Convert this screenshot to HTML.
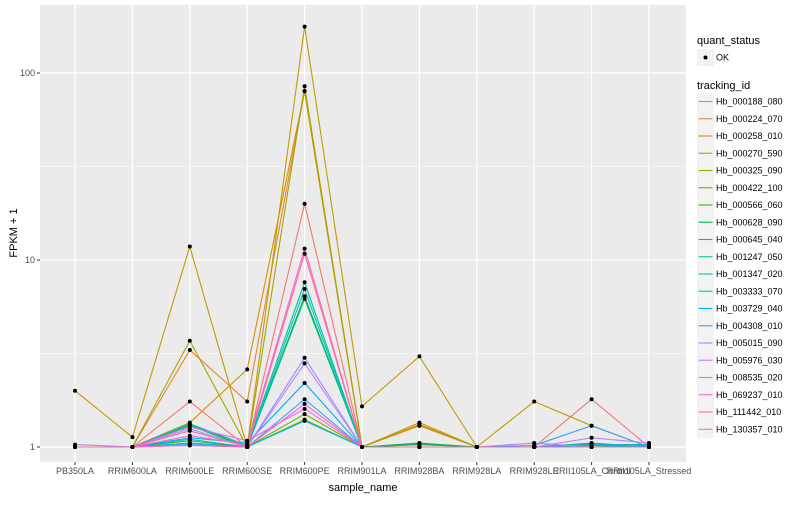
<!DOCTYPE html>
<html><head><meta charset="utf-8"><style>
body{margin:0;background:#fff;font-family:"Liberation Sans",sans-serif}
svg text{font-family:"Liberation Sans",sans-serif}
</style></head><body>
<svg id="chart" width="800" height="500" xmlns="http://www.w3.org/2000/svg">
<rect x="40" y="5" width="646" height="457" fill="#ebebeb"/>
<g id="grid"></g><g id="lines"></g><g id="points"></g><g id="axes"></g><g id="legend"></g>
<text x="363" y="491" font-size="11" text-anchor="middle" fill="#000">sample_name</text>
<text transform="translate(17,233) rotate(-90)" font-size="11" text-anchor="middle" fill="#000">FPKM + 1</text>
</svg>
<script>
const samples=["PB350LA","RRIM600LA","RRIM600LE","RRIM600SE","RRIM600PE","RRIM901LA","RRIM928BA","RRIM928LA","RRIM928LE","RRII105LA_Control","RRII105LA_Stressed"];
const genes=["Hb_000188_080","Hb_000224_070","Hb_000258_010","Hb_000270_590","Hb_000325_090","Hb_000422_100","Hb_000566_060","Hb_000628_090","Hb_000645_040","Hb_001247_050","Hb_001347_020","Hb_003333_070","Hb_003729_040","Hb_004308_010","Hb_005015_090","Hb_005976_030","Hb_008535_020","Hb_069237_010","Hb_111442_010","Hb_130357_010"];
const colors=["#F8766D","#EA8331","#D89000","#C09B00","#A3A500","#7CAE00","#39B600","#00BB4E","#00BF7D","#00C1A3","#00BFC4","#00BAE0","#00B0F6","#35A2FF","#9590FF","#C77CFF","#E76BF3","#FA62DB","#FF62BC","#FF6C91"];
const g188=[1,1,1.75,1,20,1,1.3,1,1,1.8,1];
const g224=[1,1,3.3,1.75,80,1,1.3,1,1,1,1];
const g258=[1,1,1.35,2.6,80,1,1.35,1,1,1,1];
const g270=[2.0,1.13,11.8,1.0,177,1.65,3.05,1.0,1.75,1.3,1.0];
const g325=[1,1,3.7,1.0,85,1,1.32,1,1,1,1];
const g422=[1,1,1.05,1,1.5,1,1.03,1,1,1,1];
const g566=[1,1,1.08,1,1.4,1,1.04,1,1,1,1.02];
const g628=[1,1,1.32,1,6.4,1,1.05,1,1,1.03,1];
const g645=[1,1,1.3,1,6.2,1,1.03,1,1,1.05,1];
const g1247=[1,1,1.33,1.02,7.6,1,1,1,1,1.04,1];
const g1347=[1,1,1.1,1,7.0,1,1,1,1,1.03,1.03];
const g3333=[1,1,1.05,1,1.38,1,1,1,1,1,1];
const g3729=[1,1,1.12,1.05,2.2,1,1,1,1,1.02,1];
const g4308=[1,1,1.03,1,1.8,1,1,1,1.02,1.3,1];
const g5015=[1.03,1,1.25,1,3.0,1,1,1,1.05,1,1];
const g5976=[1,1,1.02,1,2.8,1,1,1,1,1.12,1.05];
const g8535=[1,1,1.28,1.08,1.6,1,1,1,1,1,1];
const g69237=[1,1,1.15,1.03,11.5,1,1,1,1,1,1];
const g111442=[1,1,1.02,1,1.7,1,1,1,1,1,1];
const g130357=[1,1,1.22,1,10.8,1,1,1,1,1,1];
const series=[g188,g224,g258,g270,g325,g422,g566,g628,g645,g1247,g1347,g3333,g3729,g4308,g5015,g5976,g8535,g69237,g111442,g130357];
const yTicks=[1,10,100];
const yMinor=[Math.sqrt(10),Math.sqrt(1000)];
const NS="http://www.w3.org/2000/svg";
function xs(i){return 75+i*57.4;}
function ys(v){return 447-187*Math.log10(v);}
function mk(tag,attrs,parent){const e=document.createElementNS(NS,tag);for(const k in attrs)e.setAttribute(k,attrs[k]);parent.appendChild(e);return e;}
const grid=document.getElementById('grid'),lines=document.getElementById('lines'),pts=document.getElementById('points'),axes=document.getElementById('axes'),leg=document.getElementById('legend');
yMinor.forEach(v=>{const l=mk('line',{x1:40,x2:686,y1:ys(v),y2:ys(v),stroke:'#fff','stroke-width':0.6},grid);

});
yTicks.forEach(v=>{const l=mk('line',{x1:40,x2:686,y1:ys(v),y2:ys(v),stroke:'#fff','stroke-width':1.2},grid);


const t=mk('line',{x1:37,x2:40,y1:ys(v),y2:ys(v),stroke:'#333','stroke-width':1},axes);


const tx=mk('text',{x:35,y:ys(v)+3,'font-size':9,'text-anchor':'end',fill:'#4d4d4d'},axes);tx.textContent=String(v);

});
samples.forEach((s,i)=>{const l=mk('line',{x1:xs(i),x2:xs(i),y1:5,y2:462,stroke:'#fff','stroke-width':1.2},grid);


const t=mk('line',{x1:xs(i),x2:xs(i),y1:462,y2:465,stroke:'#333','stroke-width':1},axes);


const tx=mk('text',{x:xs(i),y:474,'font-size':9,'text-anchor':'middle',fill:'#4d4d4d'},axes);tx.textContent=s;

});
series.forEach((d,g)=>{const p=mk('polyline',{points:d.map((v,i)=>xs(i)+','+ys(v)).join(' '),fill:'none',stroke:colors[g],'stroke-width':1.1},lines);

});
series.forEach((d,g)=>{d.forEach((v,i)=>{const c=mk('circle',{cx:xs(i),cy:ys(v),r:2,fill:'#000'},pts);

});});
// legend
let t=mk('text',{x:697,y:44,'font-size':11,fill:'#000'},leg);t.textContent='quant_status';


let r=mk('rect',{x:697,y:49,width:17,height:17,fill:'#f2f2f2'},leg);


mk('circle',{cx:705.5,cy:57.5,r:2,fill:'#000'},leg);
t=mk('text',{x:716,y:60.5,'font-size':9,fill:'#000'},leg);t.textContent='OK';


t=mk('text',{x:697,y:89,'font-size':11,fill:'#000'},leg);t.textContent='tracking_id';


genes.forEach((g,k)=>{const y=93+k*17.25;
const e=mk('g',{},leg);


mk('rect',{x:697,y:y,width:17,height:17,fill:'#f2f2f2'},e);
mk('line',{x1:698.5,x2:712.5,y1:y+8.5,y2:y+8.5,stroke:colors[k],'stroke-width':1.1},e);
const tx=mk('text',{x:716,y:y+11.5,'font-size':9,fill:'#000'},e);tx.textContent=g;});
</script>
</body></html>
